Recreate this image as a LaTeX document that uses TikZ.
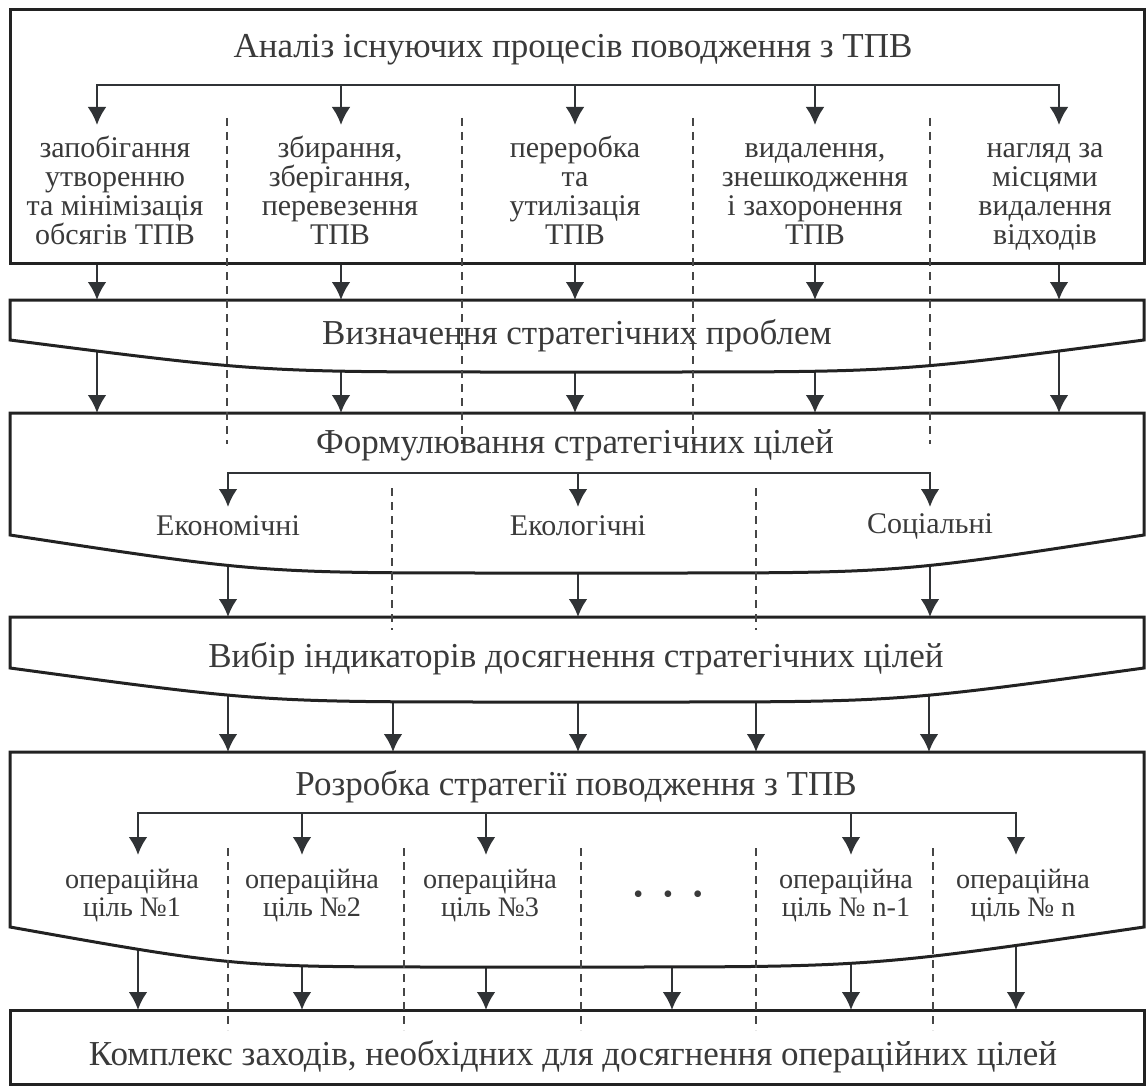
\documentclass[tikz,border=0pt]{standalone}
\usepackage{fontspec}
\setmainfont{Liberation Serif}
\usetikzlibrary{arrows.meta}

\definecolor{ink}{RGB}{48,51,54}
\definecolor{frame}{RGB}{34,34,34}
\definecolor{txt}{RGB}{58,58,58}

\tikzset{
  box/.style={draw=frame, line width=1.5pt, fill=white},
  arr/.style={draw=ink, line width=1.4pt, -{Latex[length=9pt,width=9.5pt]}},
  link/.style={draw=ink, line width=1.4pt},
  sep/.style={draw=gray!55!black, line width=0.6pt, dash pattern=on 4pt off 3pt},
  head/.style={text=txt, font=\fontsize{17.5}{20}\selectfont, anchor=base},
  item/.style={text=txt, font=\fontsize{15}{14.5}\selectfont, align=center, anchor=base},
  opitem/.style={text=txt, font=\fontsize{14.1}{14}\selectfont, align=center, anchor=base},
}

% stage box with a sagging bottom: top, side end, lowest y, flat from, flat to
\newcommand{\bandbox}[5]{%
  \draw[box] (10,#1) -- (1144,#1) -- (1144,#2)
    .. controls ({(1144+#5)/2},#3) .. (#5,#3) -- (#4,#3)
    .. controls ({(10+#4)/2},#3) .. (10,#2) -- cycle;}

\begin{document}
\begin{tikzpicture}[x=0.5pt,y=-0.5pt]
\useasboundingbox (0,0) rectangle (1146,1086);

% arrows between the stages
\foreach \x [count=\i] in {97,341,575,815,1059} {
  \coordinate (p\i) at (\x,263);
  \coordinate (q\i) at (\x,300);
  \coordinate (r\i) at (\x,340);
  \coordinate (s\i) at (\x,413);
  \draw[arr] (p\i) -- (q\i);
  \draw[arr] (r\i) -- (s\i);
}
\foreach \x [count=\i] in {228,578,930} {
  \coordinate (u\i) at (\x,535);
  \coordinate (v\i) at (\x,617);
  \draw[arr] (u\i) -- (v\i);
}
\foreach \x [count=\i] in {228,393,578,756,929} {
  \coordinate (w\i) at (\x,668);
  \coordinate (z\i) at (\x,752);
  \draw[arr] (w\i) -- (z\i);
}
\foreach \x [count=\i] in {138,302,486,672,851,1016} {
  \coordinate (m\i) at (\x,927);
  \coordinate (n\i) at (\x,1010);
  \draw[arr] (m\i) -- (n\i);
}

% stages
\draw[box] (10,10) rectangle (1144,263);
\bandbox{300}{340}{372}{510}{653}
\bandbox{413}{535}{573}{510}{653}
\bandbox{617}{668}{702}{513}{650}
\bandbox{752}{927}{967}{459}{597}
\draw[box] (10,1010) rectangle (1144,1084);

% dashed separators
\foreach \x in {227,462,693,930} \draw[sep] (\x,118) -- (\x,444);
\foreach \x in {392,756} \draw[sep] (\x,488) -- (\x,630);
\foreach \x in {228,404,581,756,933} \draw[sep] (\x,848) -- (\x,1030);

% stage 1
\node[head] (t1) at (573,58) {Аналіз існуючих процесів поводження з ТПВ};
\foreach \x [count=\i] in {97,341,575,815,1059} {
  \coordinate (a\i) at (\x,85);
  \coordinate (c\i) at (\x,125);
}
\draw[link] (a2) -- (a4);
\draw[arr] (a2) -| (c1);
\draw[arr] (a4) -| (c5);
\foreach \i in {2,3,4} \draw[arr] (a\i) -- (c\i);
\node[item] (k1) at (115,244) {запобігання\\утворенню\\та мінімізація\\обсягів ТПВ};
\node[item] (k2) at (340,244) {збирання,\\зберігання,\\перевезення\\ТПВ};
\node[item] (k3) at (575,244) {переробка\\та\\утилізація\\ТПВ};
\node[item] (k4) at (815,244) {видалення,\\знешкодження\\і захоронення\\ТПВ};
\node[item] (k5) at (1045,244) {нагляд за\\місцями\\видалення\\відходів};

% stage 2
\node[head] (t2) at (577,344) {Визначення стратегічних проблем};

% stage 3
\node[head] (t3) at (575,453) {Формулювання стратегічних цілей};
\foreach \x [count=\i] in {228,578,930} {
  \coordinate (g\i) at (\x,473);
  \coordinate (h\i) at (\x,507);
}
\draw[arr] (g2) -| (h1);
\draw[arr] (g2) -| (h3);
\draw[arr] (g2) -- (h2);
\node[item] (e1) at (228,535) {Економічні};
\node[item] (e2) at (578,535) {Екологічні};
\node[item] (e3) at (930,533) {Соціальні};

% stage 4
\node[head] (t4) at (576,667) {Вибір індикаторів досягнення стратегічних цілей};

% stage 5
\node[head] (t5) at (576,795) {Розробка стратегії поводження з ТПВ};
\foreach \x [count=\i] in {138,302,486,851,1016} {
  \coordinate (b\i) at (\x,813);
  \coordinate (d\i) at (\x,855);
}
\draw[link] (b2) -- (b4);
\draw[arr] (b2) -| (d1);
\draw[arr] (b4) -| (d5);
\foreach \i in {2,3,4} \draw[arr] (b\i) -- (d\i);
\node[opitem] (o1) at (132,916) {операційна\\ціль №1};
\node[opitem] (o2) at (312,916) {операційна\\ціль №2};
\node[opitem] (o3) at (490,916) {операційна\\ціль №3};
\node[text=txt, font=\fontsize{14}{14}\selectfont] (o4) at (668,897) {•\hspace{10pt}•\hspace{10pt}•};
\node[opitem] (o5) at (846,916) {операційна\\ціль №~n-1};
\node[opitem] (o6) at (1023,916) {операційна\\ціль №~n};

% stage 6
\node[head] (t6) at (573,1065) {Комплекс заходів, необхідних для досягнення операційних цілей};
\end{tikzpicture}
\end{document}
